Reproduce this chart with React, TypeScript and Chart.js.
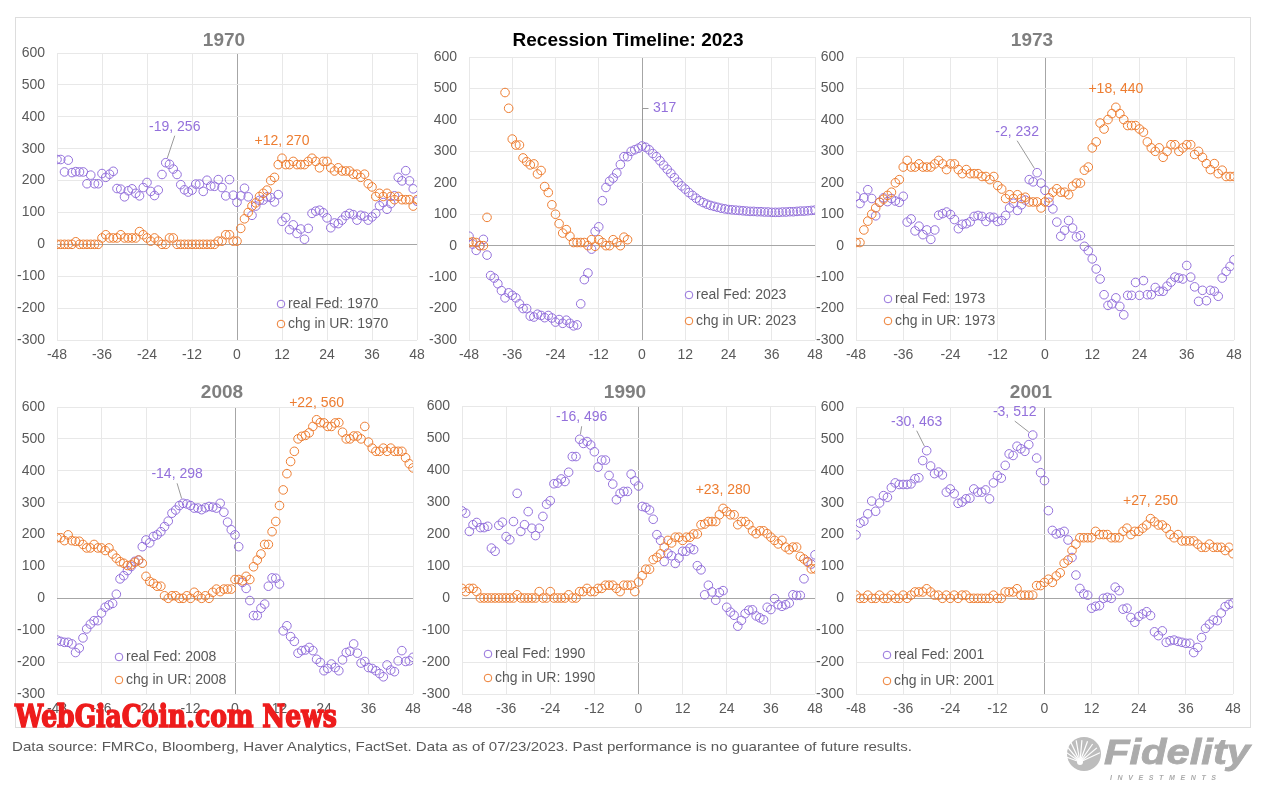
import React, { useEffect, useRef } from "react";
import { Chart, registerables } from "chart.js";
Chart.register(...registerables);

const FONT = "'Liberation Sans', Arial, Helvetica, sans-serif";
const PURPLE = "#9370DB";
const ORANGE = "#ED7D31";
const TICK_COLOR = "#595959";

// months relative to recession start (x categories)
const months: number[] = Array.from({ length: 97 }, (_, i) => i - 48);
const xTickValues = [-48, -36, -24, -12, 0, 12, 24, 36, 48];
const yTickValues = [-300, -200, -100, 0, 100, 200, 300, 400, 500, 600];

type V = number | null;

// ---- 1970 ----
const fed1970: V[] = [
  266, 266, 227, 264, 225, 228, 227, 227, 190, 217, 190, 190,
  222, 210, 220, 229, 175, 173, 149, 168, 174, 160, 152, 178,
  194, 166, 153, 170, 219, 256, 251, 236, 219, 187, 171, 164,
  170, 189, 189, 166, 201, 183, 182, 203, 178, 152, 203, 154,
  132, 152, 176, 149, 91, 120, 138, 139, 149, 147, 133, 156,
  72, 84, 46, 61, 34, 48, 16, 50, 97, 104, 107, 99,
  83, 52, 67, 65, 76, 90, 97, 93, 76, 91, 88, 76,
  86, 97, 121, 131, 110, 128, 152, 210, 199, 231, 199, 174,
  135,
];
const ur1970: V[] = [
  0, 0, 0, 0, 0, 8, 0, 0, 0, 0, 0, 0,
  20, 30, 20, 20, 20, 30, 20, 20, 20, 20, 40, 30,
  20, 10, 20, 10, 0, 0, 20, 20, 0, 0, 0, 0,
  0, 0, 0, 0, 0, 0, 0, 10, 10, 30, 30, 10,
  10, 50, 80, 100, 120, 130, 150, 160, 170, 200, 210, 250,
  270, 250, 250, 260, 250, 250, 250, 260, 270, 260, 240, 260,
  260, 240, 230, 240, 230, 230, 230, 220, 220, 210, 220, 190,
  180, 150, 160, 150, 160, 150, 140, 150, 140, 140, 140, 120,
  140,
];

// ---- 2023 ----
const fed2023: V[] = [
  30, 5, -15, 0, 20, -30, -95, -103, -121, -143, -166, -150,
  -158, -166, -185, -200, -200, -224, -227, -218, -222, -229, -222, -230,
  -243, -235, -247, -237, -247, -255, -252, -185, -108, -87, -11, 45,
  60, 143, 185, 205, 215, 231, 258, 283, 283, 300, 305, 310,
  317, 313, 305, 293, 283, 270, 256, 243, 230, 216, 202, 190,
  180, 169, 160, 151, 143, 137, 132, 128, 125, 122, 119, 117,
  115, 114, 113, 112, 111, 110, 109, 109, 108, 108, 107, 107,
  106, 106, 106, 107, 107, 108, 108, 109, 110, 110, 111, 112,
  113,
];
const ur2023: V[] = [
  10, 12, 10, 0, 0, 90, null, null, null, null, 487, 437,
  339, 320, 320, 279, 267, 257, 260, 228, 239, 188, 169, 130,
  100, 70, 40, 51, 30, 10, 10, 10, 10, 0, 19, -2,
  19, 10, 0, 0, 19, 10, 0, 27, 19, null, null, null,
  null, null, null, null, null, null, null, null, null, null, null, null,
  null, null, null, null, null, null, null, null, null, null, null, null,
  null, null, null, null, null, null, null, null, null, null, null, null,
  null, null, null, null, null, null, null, null, null, null, null, null,
  null,
];

// ---- 1973 ----
const fed1973: V[] = [
  157, 134, 152, 178, 150, 95, 138, 152, 140, 150, 142, 138,
  157, 75, 85, 47, 62, 35, 50, 20, 50, 97, 102, 107,
  99, 83, 54, 68, 70, 76, 93, 96, 93, 77, 91, 90,
  77, 80, 96, 120, 135, 112, 130, 145, 210, 203, 232, 199,
  176, 138, 117, 75, 30, 49, 80, 56, 28, 32, -2, -16,
  -42, -74, -106, -156, -190, -185, -166, -193, -220, -158, -158, -117,
  -158, -111, -156, -156, -133, -145, -145, -129, -116, -100, -103, -106,
  -63, -100, -131, -177, -142, -175, -142, -145, -161, -103, -82, -66,
  -45,
];
const ur1973: V[] = [
  10, 10, 50, 78, 100, 120, 138, 148, 160, 170, 200, 210,
  250, 271, 250, 250, 260, 250, 250, 250, 260, 271, 260, 242,
  260, 260, 242, 229, 242, 229, 229, 229, 220, 220, 210, 220,
  191, 180, 150, 162, 150, 162, 150, 154, 139, 139, 139, 120,
  139, 152, 170, 181, 170, 170, 162, 189, 199, 199, 240, 250,
  311, 330, 390, 371, 401, 420, 440, 420, 401, 382, 382, 382,
  371, 361, 330, 311, 300, 311, 281, 300, 321, 321, 300, 311,
  321, 321, 290, 300, 281, 261, 242, 261, 229, 240, 220, 220,
  220,
];

// ---- 2008 ----
const fed2008: V[] = [
  -131, -135, -138, -138, -143, -170, -156, -124, -96, -81, -70, -70,
  -46, -28, -21, -16, 13, 61, 71, 87, 100, 116, 120, 162,
  183, 174, 194, 199, 209, 225, 242, 267, 277, 291, 298, 296,
  291, 283, 283, 278, 284, 288, 286, 283, 298, 270, 239, 215,
  199, 162, 50, 31, -7, -54, -54, -31, -18, 38, 64, 63,
  45, -102, -86, -120, -135, -172, -164, -162, -154, -164, -191, -201,
  -227, -220, -206, -217, -227, -193, -170, -166, -143, -172, -203, -198,
  -217, -220, -227, -236, -246, -209, -225, -230, -196, -164, -198, -196,
  -185,
];
const ur2008: V[] = [
  190, 190, 181, 199, 181, 179, 179, 169, 158, 158, 169, 158,
  158, 150, 158, 139, 126, 115, 110, 103, 105, 113, 120, 110,
  69, 53, 47, 38, 38, 8, 0, 8, 8, 0, 0, 8,
  0, 19, 8, 0, 8, 0, 19, 29, 21, 29, 29, 29,
  59, 59, 55, 69, 59, 99, 120, 139, 169, 169, 209, 241,
  291, 340, 391, 429, 461, 500, 508, 511, 519, 539, 560, 551,
  550, 539, 539, 550, 551, 521, 500, 500, 509, 509, 500, 539,
  490, 471, 461, 461, 471, 461, 471, 461, 461, 461, 441, 422,
  409,
];

// ---- 1990 ----
const fed1990: V[] = [
  272, 265, 208, 229, 236, 220, 220, 224, 156, 146, 227, 237,
  192, 182, 239, 327, 208, 229, 270, 218, 195, 218, 255, 293,
  304, 357, 359, 372, 364, 393, 442, 442, 496, 483, 489, 478,
  457, 409, 431, 431, 383, 356, 307, 327, 333, 333, 387, 366,
  350, 286, 283, 275, 246, 198, 180, 114, 140, 132, 108, 125,
  146, 146, 156, 151, 101, 88, 10, 40, 19, -7, 17, 23,
  -29, -44, -54, -88, -70, -49, -38, -37, -56, -62, -68, -29,
  -36, -2, -21, -26, -21, -16, 10, 8, 8, 60, 114, 106,
  135,
];
const ur1990: V[] = [
  30, 20, 30, 30, 20, 0, 0, 0, 0, 0, 0, 0,
  0, 0, 0, 10, 0, 0, 0, 0, 0, 20, 0, 0,
  20, 0, 0, 0, 0, 10, 0, 0, 20, 20, 30, 20,
  20, 30, 30, 40, 40, 40, 30, 20, 40, 40, 40, 20,
  50, 70, 90, 90, 120, 127, 138, 159, 180, 172, 190, 190,
  180, 190, 190, 200, 200, 229, 231, 239, 239, 239, 260, 280,
  270, 260, 260, 229, 239, 239, 229, 210, 201, 210, 210, 201,
  190, 180, 169, 180, 159, 151, 159, 159, 130, 122, 112, 91,
  91,
];

// ---- 2001 ----
const fed2001: V[] = [
  199, 236, 242, 265, 305, 273, 299, 322, 317, 347, 362, 357,
  357, 357, 359, 375, 378, 432, 463, 415, 391, 396, 387, 333,
  343, 328, 298, 302, 312, 314, 343, 333, 333, 340, 312, 362,
  385, 377, 417, 453, 448, 477, 469, 461, 482, 512, 440, 394,
  369, 275, 213, 202, 205, 210, 183, 128, 73, 31, 14, 10,
  -31, -25, -23, 0, 3, 0, 35, 24, -34, -31, -60, -75,
  -57, -49, -42, -54, -105, -117, -102, -138, -133, -131, -135, -138,
  -141, -141, -170, -154, -123, -94, -81, -68, -70, -46, -26, -19,
  -15,
];
const ur2001: V[] = [
  10, 0, 0, 10, 0, 0, 10, 0, 0, 10, 0, 0,
  10, 0, 10, 20, 20, 20, 30, 20, 10, 10, 0, 10,
  0, 10, 0, 10, 10, 0, 0, 0, 0, 0, 0, 10,
  0, 0, 20, 20, 20, 30, 10, 10, 10, 10, 40, 40,
  50, 60, 50, 70, 80, 110, 120, 150, 170, 190, 190, 190,
  190, 210, 200, 200, 200, 190, 190, 190, 210, 220, 200, 210,
  210, 220, 230, 250, 240, 230, 230, 220, 200, 190, 200, 180,
  180, 180, 180, 170, 160, 160, 170, 160, 160, 160, 150, 160,
  140,
];

type Ann = {
  series: "fed" | "ur";
  month: number;
  dx: number;
  dy: number;
  leader: "line" | "elbow" | "none";
  align?: "left" | "center";
};

type PanelCfg = {
  year: string;
  title: string;
  titleColor: string;
  titleX: number;
  titleY: number;
  fed: V[];
  ur: V[];
  area: { l: number; t: number; r: number; b: number };
  legend: { x: number; y: number; gap: number };
  anns: Ann[];
};

const panels: PanelCfg[] = [
  {
    year: "1970", title: "1970", titleColor: "#7F7F7F", titleX: 224, titleY: 40,
    fed: fed1970, ur: ur1970, area: { l: 57, t: 53, r: 417, b: 340 },
    legend: { x: 224, y: 251, gap: 20 },
    anns: [
      { series: "fed", month: -19, dx: 9, dy: -36, leader: "line" },
      { series: "ur", month: 12, dx: 0, dy: -17, leader: "none" },
    ],
  },
  {
    year: "2023", title: "Recession Timeline: 2023", titleColor: "#000000", titleX: 628, titleY: 40,
    fed: fed2023, ur: ur2023, area: { l: 469, t: 57, r: 815, b: 340 },
    legend: { x: 220, y: 238, gap: 26 },
    anns: [{ series: "fed", month: 0, dx: 11, dy: -38, leader: "elbow", align: "left" }],
  },
  {
    year: "1973", title: "1973", titleColor: "#7F7F7F", titleX: 1032, titleY: 40,
    fed: fed1973, ur: ur1973, area: { l: 856, t: 57, r: 1234, b: 340 },
    legend: { x: 32, y: 242, gap: 22 },
    anns: [
      { series: "fed", month: -2, dx: -20, dy: -41, leader: "line" },
      { series: "ur", month: 18, dx: 0, dy: -18, leader: "none" },
    ],
  },
  {
    year: "2008", title: "2008", titleColor: "#7F7F7F", titleX: 222, titleY: 392,
    fed: fed2008, ur: ur2008, area: { l: 57, t: 407, r: 413, b: 694 },
    legend: { x: 62, y: 250, gap: 23 },
    anns: [
      { series: "fed", month: -14, dx: -6, dy: -29, leader: "line" },
      { series: "ur", month: 22, dx: 0, dy: -17, leader: "none" },
    ],
  },
  {
    year: "1990", title: "1990", titleColor: "#7F7F7F", titleX: 625, titleY: 392,
    fed: fed1990, ur: ur1990, area: { l: 462, t: 406, r: 815, b: 694 },
    legend: { x: 26, y: 248, gap: 24 },
    anns: [
      { series: "fed", month: -16, dx: 2, dy: -22, leader: "line" },
      { series: "ur", month: 23, dx: 0, dy: -18, leader: "none" },
    ],
  },
  {
    year: "2001", title: "2001", titleColor: "#7F7F7F", titleX: 1031, titleY: 392,
    fed: fed2001, ur: ur2001, area: { l: 856, t: 407, r: 1233, b: 694 },
    legend: { x: 31, y: 248, gap: 26 },
    anns: [
      { series: "fed", month: -30, dx: -10, dy: -29, leader: "line" },
      { series: "fed", month: -3, dx: -18, dy: -23, leader: "line" },
      { series: "ur", month: 27, dx: 0, dy: -17, leader: "none" },
    ],
  },
];

const PADL = 52, PADT = 45, PADR = 16, PADB = 26;

function overlayPlugin(cfg: PanelCfg) {
  return {
    id: "overlay" + cfg.year,
    afterDatasetsDraw(chart: any) {
      const ctx: CanvasRenderingContext2D = chart.ctx;
      const xs = chart.scales.x;
      const ys = chart.scales.y;
      const ca = chart.chartArea;
      ctx.save();
      ctx.font = `14px ${FONT}`;
      ctx.textBaseline = "middle";
      cfg.anns.forEach((a) => {
        const arr = a.series === "fed" ? cfg.fed : cfg.ur;
        const v = arr[months.indexOf(a.month)] as number;
        const px = xs.getPixelForValue(a.month);
        const py = ys.getPixelForValue(v);
        const lx = px + a.dx;
        const ly = py + a.dy;
        const color = a.series === "fed" ? PURPLE : ORANGE;
        const text = a.month === 0 ? `${v}` : `${a.month > 0 ? "+" : ""}${a.month}, ${v}`;
        ctx.strokeStyle = "#9A9A9A";
        ctx.lineWidth = 1;
        if (a.leader === "line") {
          const sx = lx, sy = ly + 9;
          const ddx = px - sx, ddy = py - sy;
          const d = Math.hypot(ddx, ddy);
          const ex = px - (ddx / d) * 5, ey = py - (ddy / d) * 5;
          ctx.beginPath();
          ctx.moveTo(sx, sy);
          ctx.lineTo(ex, ey);
          ctx.stroke();
        } else if (a.leader === "elbow") {
          const x0 = Math.round(px) + 0.5;
          ctx.beginPath();
          ctx.moveTo(x0 + 6, Math.round(ly) + 0.5);
          ctx.lineTo(x0, Math.round(ly) + 0.5);
          ctx.lineTo(x0, py - 5);
          ctx.stroke();
        }
        ctx.fillStyle = color;
        ctx.textAlign = a.align === "left" ? "left" : "center";
        ctx.fillText(text, lx, ly);
      });
      const items = [
        { color: PURPLE, text: `real Fed: ${cfg.year}` },
        { color: ORANGE, text: `chg in UR: ${cfg.year}` },
      ];
      items.forEach((it, i) => {
        const cx = ca.left + cfg.legend.x;
        const cy = ca.top + cfg.legend.y + i * cfg.legend.gap;
        ctx.beginPath();
        ctx.arc(cx, cy, 3.8, 0, Math.PI * 2);
        ctx.strokeStyle = it.color;
        ctx.lineWidth = 1;
        ctx.stroke();
        ctx.fillStyle = TICK_COLOR;
        ctx.textAlign = "left";
        ctx.fillText(it.text, cx + 7, cy);
      });
      ctx.restore();
    },
  };
}

function Panel({ cfg }: { cfg: PanelCfg }) {
  const ref = useRef<HTMLCanvasElement>(null);
  const { l, t, r, b } = cfg.area;
  const w = r - l + PADL + PADR;
  const h = b - t + PADT + PADB;
  useEffect(() => {
    const toPts = (arr: V[]) =>
      months
        .map((m, i) => ({ x: m, y: arr[i] }))
        .filter((p) => p.y !== null && p.y !== undefined);
    const gridColor = (c: any) => (c.tick && c.tick.value === 0 ? "#A6A6A6" : "#E8E8E8");
    const chart = new Chart(ref.current as HTMLCanvasElement, {
      type: "scatter",
      data: {
        datasets: [
          {
            label: `real Fed: ${cfg.year}`,
            data: toPts(cfg.fed) as any,
            borderColor: PURPLE,
            backgroundColor: "rgba(0,0,0,0)",
            pointRadius: 4.3,
            pointBorderWidth: 1,
            order: 1,
          },
          {
            label: `chg in UR: ${cfg.year}`,
            data: toPts(cfg.ur) as any,
            borderColor: ORANGE,
            backgroundColor: "rgba(0,0,0,0)",
            pointRadius: 4.3,
            pointBorderWidth: 1,
            order: 0,
          },
        ],
      },
      options: {
        responsive: false,
        animation: false,
        events: [],
        layout: { padding: { left: 0, top: PADT, right: PADR, bottom: 0 } },
        plugins: { legend: { display: false }, tooltip: { enabled: false }, title: { display: false } },
        scales: {
          x: {
            type: "linear",
            min: -48,
            max: 48,
            afterBuildTicks: (s: any) => {
              s.ticks = xTickValues.map((v) => ({ value: v }));
            },
            afterFit: (s: any) => {
              s.height = PADB;
            },
            grid: { color: gridColor, drawTicks: false, lineWidth: 1 },
            border: { display: false },
            ticks: {
              padding: 7,
              color: TICK_COLOR,
              font: { size: 14, family: FONT },
              maxRotation: 0,
              autoSkip: false,
              callback: (v: any) => String(v),
            },
          },
          y: {
            type: "linear",
            min: -300,
            max: 600,
            afterBuildTicks: (s: any) => {
              s.ticks = yTickValues.map((v) => ({ value: v }));
            },
            afterFit: (s: any) => {
              s.width = PADL;
            },
            grid: { color: gridColor, drawTicks: false, lineWidth: 1 },
            border: { display: false },
            ticks: {
              padding: 12,
              color: TICK_COLOR,
              font: { size: 14, family: FONT },
              autoSkip: false,
              callback: (v: any) => String(v),
            },
          },
        },
      } as any,
      plugins: [overlayPlugin(cfg)],
    });
    return () => chart.destroy();
  }, []);
  return (
    <canvas
      ref={ref}
      width={w}
      height={h}
      style={{ position: "absolute", left: l - PADL, top: t - PADT, width: w, height: h }}
    />
  );
}

export default function App() {
  useEffect(() => {
    Chart.defaults.font.family = FONT;
  }, []);
  return (
    <div
      style={{
        position: "absolute",
        left: 0,
        top: 0,
        width: 1272,
        height: 797,
        background: "#FFFFFF",
        overflow: "hidden",
        fontFamily: FONT,
      }}
    >
      <div
        style={{
          position: "absolute",
          left: 15,
          top: 17,
          width: 1236,
          height: 711,
          border: "1px solid #DDDDDD",
          boxSizing: "border-box",
        }}
      />
      {panels.map((p) => (
        <Panel key={p.year} cfg={p} />
      ))}
      {panels.map((p) => (
        <div
          key={"t" + p.year}
          style={{
            position: "absolute",
            left: p.titleX,
            top: p.titleY,
            transform: "translate(-50%, -50%)",
            fontSize: 19,
            fontWeight: "bold",
            color: p.titleColor,
            whiteSpace: "nowrap",
            lineHeight: "22px",
          }}
        >
          {p.title}
        </div>
      ))}
      <svg
        width={1272}
        height={797}
        style={{ position: "absolute", left: 0, top: 0, pointerEvents: "none" }}
      >
        <text
          x={12}
          y={751}
          fontSize={13.5}
          fill="#595959"
          fontFamily={FONT}
          textLength={900}
          lengthAdjust="spacingAndGlyphs"
        >
          Data source: FMRCo, Bloomberg, Haver Analytics, FactSet. Data as of 07/23/2023. Past performance is no guarantee of future results.
        </text>
        <g>
          <circle cx={1084} cy={754} r={17} fill="#BDBDBD" />
          {[200, 215, 230, 245, 260, 275, 290, 305, 320, 335].map((a) => (
            <line
              key={a}
              x1={1080}
              y1={762}
              x2={1080 + 22 * Math.cos((a * Math.PI) / 180)}
              y2={762 + 22 * Math.sin((a * Math.PI) / 180)}
              stroke="#FFFFFF"
              strokeWidth={1.2}
            />
          ))}
          <circle cx={1080} cy={762} r={3} fill="#FFFFFF" />
          <text
            x={1104}
            y={764}
            fontSize={35}
            fontWeight="bold"
            fontStyle="italic"
            fill="#ABABAB"
            stroke="#ABABAB"
            strokeWidth={0.8}
            fontFamily={FONT}
            textLength={146}
            lengthAdjust="spacingAndGlyphs"
          >
            Fidelity
          </text>
          <text
            x={1110}
            y={780}
            fontSize={7}
            fontWeight="bold"
            fontStyle="italic"
            fill="#ABABAB"
            fontFamily={FONT}
            textLength={106}
            lengthAdjust="spacing"
          >
            INVESTMENTS
          </text>
        </g>
        <text
          x={15}
          y={727}
          fontSize={32}
          fontWeight="bold"
          fill="#EE1C1C"
          stroke="#EE1C1C"
          strokeWidth={1.6}
          fontFamily="'DejaVu Serif', serif"
          textLength={322}
          lengthAdjust="spacingAndGlyphs"
        >
          WebGiaCoin.com News
        </text>
      </svg>
    </div>
  );
}
